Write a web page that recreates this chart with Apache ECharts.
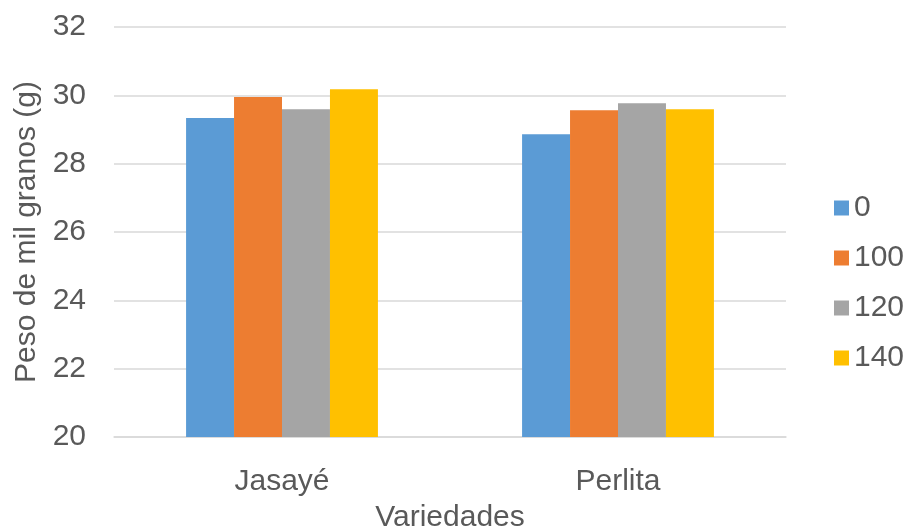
<!DOCTYPE html>
<html>
<head>
<meta charset="utf-8">
<script src="https://cdn.jsdelivr.net/npm/echarts@6/dist/echarts.min.js"></script>
<style>
  html, body { margin: 0; padding: 0; background: #fff; }
  #chart { width: 908px; height: 531px; }
</style>
</head>
<body>
<div id="chart"></div>
<script>
// Thousand-grain weight by variety and treatment
const categories = ['Jasayé', 'Perlita'];
const seriesNames = ['0', '100', '120', '140'];
const values0 = [29.34, 28.86];
const values100 = [29.95, 29.56];
const values120 = [29.59, 29.77];
const values140 = [30.18, 29.59];
const colors = ['#5B9BD5', '#ED7D31', '#A5A5A5', '#FFC000'];

const allValues = [values0, values100, values120, values140];
const font = 'Liberation Sans, Arial, sans-serif';
const textColor = '#595959';
const fontSize = 30;

const chart = echarts.init(document.getElementById('chart'), null, { renderer: 'canvas' });
chart.setOption({
  animation: false,
  color: colors,
  textStyle: { fontFamily: font },
  grid: {
    left: 114, right: 122, top: 27, bottom: 94,
    containLabel: false,
    outerBoundsMode: 'none'
  },
  legend: {
    orient: 'vertical',
    left: 829,
    top: 188,
    itemWidth: 15,
    itemHeight: 15,
    itemGap: 20,
    icon: 'rect',
    textStyle: { fontSize: fontSize, color: textColor, fontFamily: font },
    data: seriesNames
  },
  xAxis: {
    type: 'category',
    data: categories,
    name: 'Variedades',
    nameLocation: 'middle',
    nameGap: 66,
    nameTextStyle: { fontSize: fontSize, color: textColor, fontFamily: font },
    axisLine: { show: true, lineStyle: { color: '#D9D9D9', width: 1.5 } },
    axisTick: { show: false },
    axisLabel: { fontSize: fontSize, color: textColor, fontFamily: font, margin: 30 }
  },
  yAxis: {
    type: 'value',
    min: 20,
    max: 32,
    interval: 2,
    name: 'Peso de mil granos (g)',
    nameLocation: 'middle',
    nameGap: 72,
    nameRotate: 90,
    nameTextStyle: { fontSize: fontSize, color: textColor, fontFamily: font },
    axisLine: { show: false },
    axisTick: { show: false },
    axisLabel: { fontSize: fontSize, color: textColor, fontFamily: font, margin: 28 },
    splitLine: { lineStyle: { color: '#D9D9D9', width: 1.5 } }
  },
  series: seriesNames.map((name, i) => ({
    name: name,
    type: 'bar',
    data: allValues[i],
    barGap: '0%',
    barCategoryGap: '42.9%',
    itemStyle: { color: colors[i] }
  }))
});
</script>
</body>
</html>
